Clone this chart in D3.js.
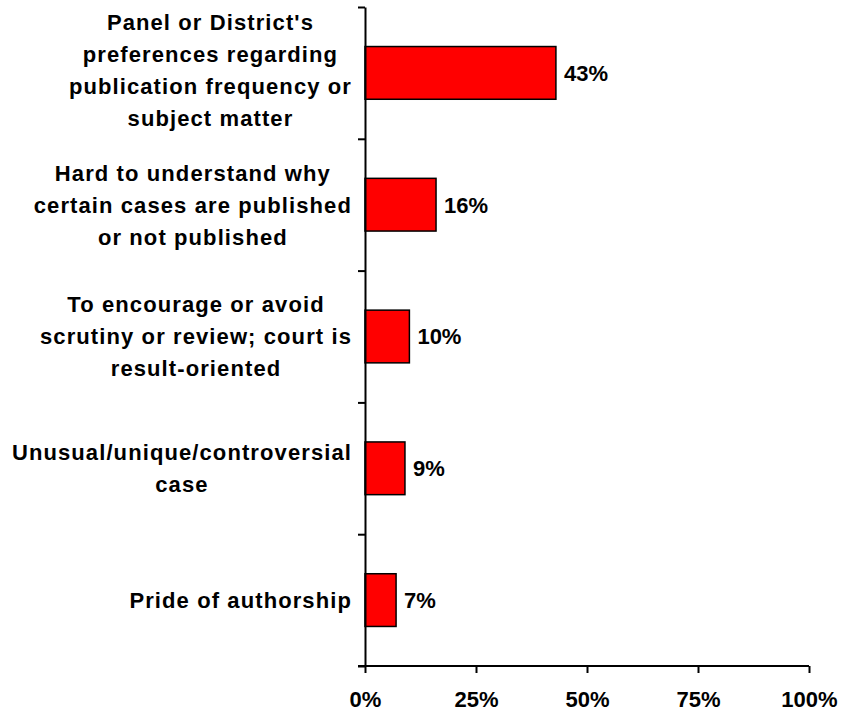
<!DOCTYPE html>
<html>
<head>
<meta charset="utf-8">
<script src="https://cdn.jsdelivr.net/npm/d3@7"></script>
<style>
  body { margin: 0; background: #fff; }
  svg text { font-family: "Liberation Sans", Arial, sans-serif; font-weight: bold; fill: #000; }
</style>
</head>
<body>
<script>
// category labels (already wrapped like in the original)
var categories = [
    ["Panel or District's", "preferences regarding", "publication frequency or", "subject matter"],
    ["Hard to understand why", "certain cases are published", "or not published"],
    ["To encourage or avoid", "scrutiny or review; court is", "result-oriented"],
    ["Unusual/unique/controversial", "case"],
    ["Pride of authorship"]
];
var values = [43, 16, 10, 9, 7];
var xTicks = [0, 25, 50, 75, 100];

var width = 854, height = 712;
var plotLeft = 365, plotRight = 809, plotTop = 7, plotBottom = 666;

var svg = d3.select('body').append('svg')
    .attr('width', width)
    .attr('height', height);

var x = d3.scaleLinear()
    .domain([0, 100])
    .range([plotLeft, plotRight]);

var y = d3.scaleBand()
    .domain(d3.range(values.length))
    .range([plotTop, plotBottom])
    .paddingInner(0.6)
    .paddingOuter(0.3);

// boundaries between categories, for the y tick marks
var yEdge = d3.scaleLinear()
    .domain([0, values.length])
    .range([plotTop, plotBottom]);

// bars
svg.selectAll('rect.bar')
    .data(values)
    .enter().append('rect')
    .attr('class', 'bar')
    .attr('x', x(0))
    .attr('y', function(d, i){ return y(i); })
    .attr('width', function(d){ return x(d) - x(0); })
    .attr('height', y.bandwidth())
    .attr('fill', '#ff0000')
    .attr('stroke', '#000')
    .attr('stroke-width', 1.5);

// value labels
svg.selectAll('text.val')
    .data(values)
    .enter().append('text')
    .attr('class', 'val')
    .attr('x', function(d){ return x(d) + 8; })
    .attr('y', function(d, i){ return y(i) + y.bandwidth() / 2; })
    .attr('dy', '0.36em')
    .style('font-size', '22px')
    .text(function(d){ return d + '%'; });

// x axis
var xAxis = d3.axisBottom(x)
    .tickValues(xTicks)
    .tickFormat(function(d){ return d + '%'; })
    .tickSize(7)
    .tickPadding(18);

var gx = svg.append('g')
    .attr('transform', 'translate(0,' + plotBottom + ')')
    .call(xAxis);
gx.select('.domain').attr('d', 'M' + (plotLeft - 7) + ',0H' + plotRight).attr('stroke', '#000').attr('stroke-width', 2);
gx.selectAll('.tick line').attr('stroke', '#000').attr('stroke-width', 2);
gx.selectAll('.tick text').style('font-size', '22px').style('font-family', '"Liberation Sans", Arial, sans-serif');

// y axis (ticks at category boundaries)
var yAxis = d3.axisLeft(yEdge)
    .tickValues(d3.range(values.length + 1))
    .tickFormat('')
    .tickSize(7)
    .tickSizeOuter(0);

var gy = svg.append('g')
    .attr('transform', 'translate(' + plotLeft + ',0)')
    .call(yAxis);
gy.select('.domain').attr('stroke', '#000').attr('stroke-width', 2);
gy.selectAll('.tick line').attr('stroke', '#000').attr('stroke-width', 2);

// category labels: block right aligned, lines centred inside
var lineH = 32, labelRight = 352;
categories.forEach(function(lines, i){
    var cy = y(i) + y.bandwidth() / 2 - (lines.length > 3 ? 3 : 0);
    var g = svg.append('g');
    var texts = g.selectAll('text')
        .data(lines)
        .enter().append('text')
        .attr('text-anchor', 'middle')
        .attr('y', function(d, j){ return cy + (j - (lines.length - 1) / 2) * lineH; })
        .attr('dy', '0.36em')
        .style('font-size', '22px')
        .style('letter-spacing', '1.1px')
        .text(function(d){ return d; });
    var w = 0;
    texts.each(function(){ w = Math.max(w, this.getComputedTextLength()); });
    texts.attr('x', labelRight - w / 2);
});
</script>
</body>
</html>
